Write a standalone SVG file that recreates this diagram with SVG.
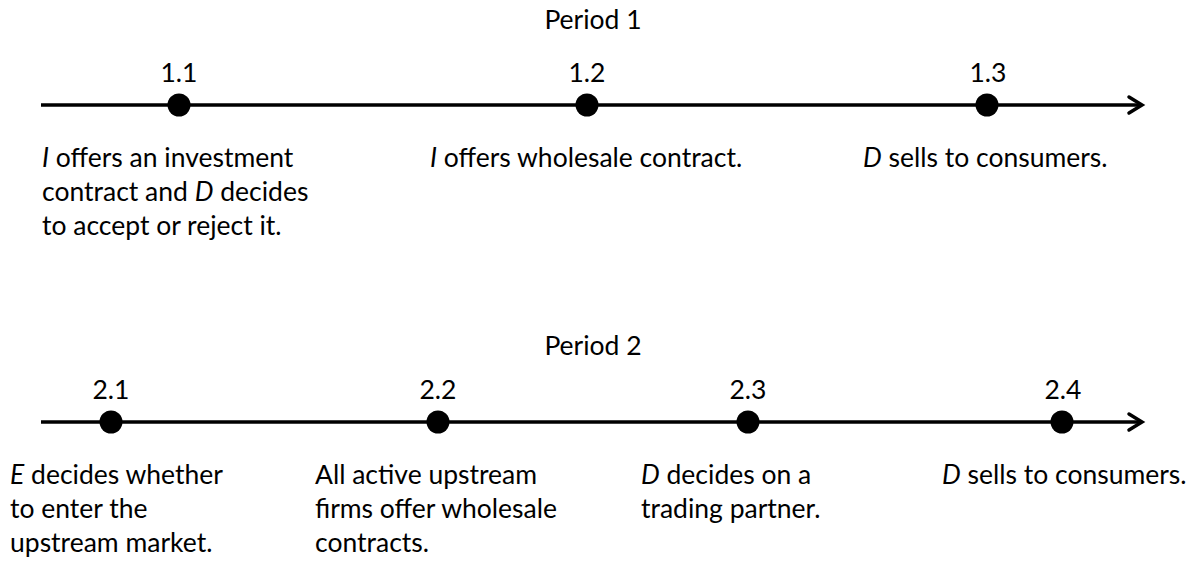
<svg xmlns="http://www.w3.org/2000/svg" width="1196" height="562" viewBox="0 0 1196 562">
  <style>
    text { font-family: Lato, "Liberation Sans", sans-serif; font-size: 26.5px; fill: #000; }
    .c { text-anchor: middle; }
    .i { font-style: italic; }
    .axis { stroke: #000; stroke-width: 3.5; fill: none; }
    .head { stroke: #000; stroke-width: 3.5; fill: none; stroke-linecap: round; stroke-linejoin: miter; }
    .dot { fill: #000; }
  </style>
  <rect width="1196" height="562" fill="#fff"/>

  <g id="connectors">
    <line class="axis" x1="41" y1="105" x2="1141" y2="105"/>
    <polyline class="head" points="1129,97 1142,105 1129,113"/>
    <line class="axis" x1="41" y1="422" x2="1141" y2="422"/>
    <polyline class="head" points="1129,414 1142,422 1129,430"/>
  </g>

  <g id="period1-title"><text class="c" x="593" y="29">Period 1</text></g>
  <g id="period2-title"><text class="c" x="593" y="355">Period 2</text></g>

  <g id="event-1-1">
    <circle class="dot" cx="179" cy="105" r="11.5"/>
    <text class="c" x="179" y="82">1.1</text>
    <text x="42" y="167"><tspan class="i">I</tspan> offers an investment</text>
    <text x="42" y="201">contract and <tspan class="i">D</tspan> decides</text>
    <text x="42" y="235">to accept or reject it.</text>
  </g>
  <g id="event-1-2">
    <circle class="dot" cx="587" cy="105" r="11.5"/>
    <text class="c" x="587" y="82">1.2</text>
    <text x="430" y="167"><tspan class="i">I</tspan> offers wholesale contract.</text>
  </g>
  <g id="event-1-3">
    <circle class="dot" cx="987" cy="105" r="11.5"/>
    <text class="c" x="988" y="82">1.3</text>
    <text x="863" y="167"><tspan class="i">D</tspan> sells to consumers.</text>
  </g>

  <g id="event-2-1">
    <circle class="dot" cx="111" cy="422" r="11.5"/>
    <text class="c" x="111" y="399">2.1</text>
    <text x="10" y="484"><tspan class="i">E</tspan> decides whether</text>
    <text x="10" y="518">to enter the</text>
    <text x="10" y="552">upstream market.</text>
  </g>
  <g id="event-2-2">
    <circle class="dot" cx="438" cy="422" r="11.5"/>
    <text class="c" x="438" y="399">2.2</text>
    <text x="315" y="484">All active upstream</text>
    <text x="315" y="518">firms offer wholesale</text>
    <text x="315" y="552">contracts.</text>
  </g>
  <g id="event-2-3">
    <circle class="dot" cx="748" cy="422" r="11.5"/>
    <text class="c" x="748" y="399">2.3</text>
    <text x="641" y="484"><tspan class="i">D</tspan> decides on a</text>
    <text x="641" y="518">trading partner.</text>
  </g>
  <g id="event-2-4">
    <circle class="dot" cx="1062" cy="422" r="11.5"/>
    <text class="c" x="1063" y="399">2.4</text>
    <text x="942" y="484"><tspan class="i">D</tspan> sells to consumers.</text>
  </g>
</svg>
